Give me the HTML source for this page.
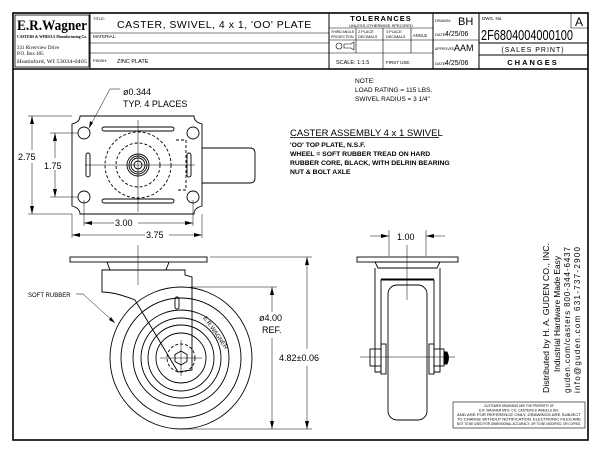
<!DOCTYPE html>
<html><head><style>html,body{margin:0;padding:0;background:#fff}svg{display:block}</style></head><body>
<svg width="600" height="453" viewBox="0 0 600 453" xmlns="http://www.w3.org/2000/svg" font-family="Liberation Sans, sans-serif">
<rect width="600" height="453" fill="#fff"/>
<g fill="none" stroke="#000">
<rect x="13" y="13" width="575" height="427" stroke-width="1.6"/>
<line x1="13" y1="69" x2="588" y2="69" stroke-width="1.6"/>
<rect x="15" y="15" width="74" height="52" stroke-width="0.8"/>
<line x1="90" y1="13" x2="90" y2="69"/>
<line x1="90" y1="33" x2="329" y2="33" stroke-width="0.6"/>
<line x1="90" y1="43" x2="329" y2="43" stroke-width="0.6"/>
<line x1="90" y1="53" x2="329" y2="53" stroke-width="0.6"/>
<line x1="329" y1="13" x2="329" y2="69"/>
<line x1="433" y1="13" x2="433" y2="69"/>
<line x1="479" y1="13" x2="479" y2="69"/>
<line x1="329" y1="28" x2="433" y2="28" stroke-width="0.6"/>
<line x1="329" y1="40" x2="433" y2="40" stroke-width="0.6"/>
<line x1="329" y1="53" x2="433" y2="53" stroke-width="0.6"/>
<line x1="356" y1="28" x2="356" y2="53" stroke-width="0.6"/>
<line x1="383" y1="28" x2="383" y2="69" stroke-width="0.6"/>
<line x1="411" y1="28" x2="411" y2="53" stroke-width="0.6"/>
<line x1="433" y1="40" x2="479" y2="40" stroke-width="0.6"/>
<line x1="479" y1="43" x2="588" y2="43"/>
<line x1="479" y1="55" x2="588" y2="55"/>
<line x1="571" y1="13" x2="571" y2="28" stroke-width="0.6"/>
<line x1="571" y1="28" x2="588" y2="28" stroke-width="0.6"/>
</g>
<g fill="#000">
<text x="17" y="30" font-family="Liberation Serif, serif" font-size="15" font-weight="bold" textLength="70" lengthAdjust="spacingAndGlyphs">E.R.Wagner</text>
<text x="17" y="38" font-family="Liberation Serif, serif" font-size="4.5" font-weight="bold" textLength="70" lengthAdjust="spacingAndGlyphs">CASTERS &amp; WHEELS  Manufacturing Co.</text>
<text x="17" y="49" font-family="Liberation Serif, serif" font-size="5">331 Riverview Drive</text>
<text x="17" y="55" font-family="Liberation Serif, serif" font-size="5">P.O. Box 405</text>
<text x="17" y="63" font-family="Liberation Serif, serif" font-size="5" textLength="70" lengthAdjust="spacingAndGlyphs">Hustisford, WI 53034-0405</text>
<text x="93" y="20" font-size="4">TITLE:</text>
<text x="117" y="28" font-size="10.5" letter-spacing="0.5">CASTER, SWIVEL, 4 x 1, 'OO' PLATE</text>
<text x="93" y="38" font-size="4.5">MATERIAL:</text>
<text x="93" y="62" font-size="4">FINISH:</text>
<text x="117" y="63" font-size="5.5">ZINC PLATE</text>
<text x="381" y="21" font-size="7.5" font-weight="bold" text-anchor="middle" letter-spacing="1">TOLERANCES</text>
<text x="381" y="27" font-size="4" text-anchor="middle">UNLESS OTHERWISE SPECIFIED</text>
<text x="331" y="33" font-size="3.5">THIRD ANGLE</text><text x="331" y="38" font-size="3.5">PROJECTION</text>
<text x="358" y="33" font-size="3.8">2 PLACE</text><text x="358" y="38" font-size="3.8">DECIMALS</text>
<text x="386" y="33" font-size="3.8">3 PLACE</text><text x="386" y="38" font-size="3.8">DECIMALS</text>
<text x="413" y="37" font-size="4.2">ANGLE</text>
<text x="336" y="64" font-size="5.5">SCALE: 1:1.5</text>
<text x="386" y="64" font-size="4.5">FIRST USE:</text>
<text x="435" y="22" font-size="4">DRAWN:</text><text x="458" y="25" font-size="11">BH</text>
<text x="435" y="36" font-size="4">DATE:</text><text x="445" y="36" font-size="7">4/25/06</text>
<text x="435" y="50" font-size="3.5">APPROVED:</text><text x="454" y="51" font-size="9">AAM</text>
<text x="435" y="65" font-size="4">DATE:</text><text x="445" y="65" font-size="7">4/25/06</text>
<text x="482" y="20" font-size="4.5">DWG. No.</text>
<text x="481" y="40" font-size="15" textLength="92" lengthAdjust="spacingAndGlyphs">2F6804004000100</text>
<text x="579" y="26" font-size="12" text-anchor="middle">A</text>
<text x="533" y="52" font-size="7" text-anchor="middle" letter-spacing="1">(SALES PRINT)</text>
<text x="533" y="65" font-size="7.5" font-weight="bold" text-anchor="middle" letter-spacing="2">CHANGES</text>
</g>
<g fill="none" stroke="#000" stroke-width="0.9">
<circle cx="339" cy="46" r="3" stroke-width="0.6"/><path d="M344 44h7l3-2v8l-3-2h-7z" stroke-width="0.6"/>
<path d="M80 116H194Q194 122 202 124V206Q194 208 194 214H80Q80 208 72 206V124Q80 122 80 116Z"/>
<path d="M202 148H250Q255 148 255 153V178Q255 183 250 183H202"/>
<circle cx="84" cy="133" r="6"/><circle cx="193" cy="133" r="6"/><circle cx="84" cy="197" r="6"/><circle cx="193" cy="197" r="6"/>
<rect x="102" y="127" width="72" height="4" rx="2"/><rect x="102" y="199" width="72" height="4" rx="2"/>
<rect x="86" y="153" width="4" height="24" rx="2"/><rect x="187" y="153" width="4" height="24" rx="2"/>
<circle cx="138" cy="165" r="4"/><circle cx="138" cy="165" r="7"/><circle cx="138" cy="165" r="9"/><circle cx="138" cy="165" r="11"/>
<circle cx="138" cy="165" r="22" stroke-dasharray="3 2"/><circle cx="138" cy="165" r="33" stroke-dasharray="3 2"/>
<path d="M176 140h10v50h-10" stroke-dasharray="3 2"/>
<g stroke-width="0.5"><line x1="138" y1="120" x2="138" y2="212"/><line x1="85" y1="165" x2="195" y2="165"/>
<line x1="28" y1="116" x2="72" y2="116"/><line x1="28" y1="214" x2="72" y2="214"/><line x1="32" y1="116" x2="32" y2="214"/>
<line x1="50" y1="133" x2="78" y2="133"/><line x1="50" y1="197" x2="78" y2="197"/><line x1="55" y1="133" x2="55" y2="197"/>
<line x1="84" y1="200" x2="84" y2="226"/><line x1="193" y1="200" x2="193" y2="226"/><line x1="84" y1="223" x2="193" y2="223"/>
<line x1="72" y1="214" x2="72" y2="238"/><line x1="202" y1="214" x2="202" y2="238"/><line x1="72" y1="235" x2="202" y2="235"/>
<path d="M120 89L110 89L89 128"/>
</g>
<rect x="70" y="257" width="137" height="5"/>
<path d="M107 262h62l-3 8H110z"/>
<path d="M102 270H185V275L192 277V370L178 372L135 300Q115 292 102 292Z"/>
<circle cx="181" cy="358" r="71"/>
<circle cx="181" cy="358" r="60"/><circle cx="181" cy="358" r="48"/><circle cx="181" cy="358" r="40"/><circle cx="181" cy="358" r="33"/><circle cx="181" cy="358" r="25"/>
<circle cx="181" cy="358" r="14" stroke-dasharray="3 2"/>
<path d="M181 351l6 3.5v7l-6 3.5l-6-3.5v-7z"/>
<rect x="175" y="297" width="4" height="12" rx="2"/>
<g stroke-width="0.5"><line x1="138" y1="245" x2="138" y2="285"/><line x1="160" y1="358" x2="202" y2="358"/><line x1="181" y1="340" x2="181" y2="376"/>
<line x1="210" y1="257" x2="312" y2="257"/><line x1="181" y1="429" x2="312" y2="429"/><line x1="307" y1="257" x2="307" y2="349"/><line x1="307" y1="366" x2="307" y2="429"/>
<line x1="190" y1="287" x2="277" y2="287"/><line x1="272" y1="287" x2="272" y2="312"/><line x1="272" y1="338" x2="272" y2="429"/>
<path d="M76 294H83L115 323"/></g>
<rect x="357" y="257" width="101" height="5"/>
<path d="M375 262h65l-3 6h-59z"/>
<path d="M375 268V372h6V280h53v92h6V268"/>
<rect x="388" y="285" width="39" height="135" rx="9"/>
<rect x="381" y="344" width="5" height="30"/><rect x="429" y="344" width="5" height="30"/>
<rect x="370" y="349" width="11" height="17"/><rect x="434" y="349" width="10" height="17"/>
<path d="M444 352h3q3 6 0 12h-3z" fill="#000"/>
<line x1="381" y1="279" x2="434" y2="279"/>
<g stroke-width="0.5"><line x1="407" y1="245" x2="407" y2="300"/><line x1="360" y1="357" x2="455" y2="357"/>
<line x1="389" y1="230" x2="389" y2="256"/><line x1="426" y1="230" x2="426" y2="256"/>
<line x1="370" y1="236" x2="389" y2="236"/><line x1="426" y1="236" x2="445" y2="236"/></g>
<rect x="453" y="402" width="132" height="26" stroke-width="0.6"/>
</g>
<g fill="#000">
<path d="M32 116l-2 8h4z"/><path d="M32 214l-2-8h4z"/>
<path d="M55 133l-2 8h4z"/><path d="M55 197l-2-8h4z"/>
<path d="M84 223l8-2v4z"/><path d="M193 223l-8-2v4z"/>
<path d="M72 235l8-2v4z"/><path d="M202 235l-8-2v4z"/>
<path d="M89 128l1-7 3 2z"/>
<path d="M307 257l-2 8h4z"/><path d="M307 429l-2-8h4z"/>
<path d="M272 287l-2 8h4z"/><path d="M272 429l-2-8h4z"/>
<path d="M115 323l-6-3 2-3z"/>
<path d="M389 236l-8-2v4z"/><path d="M426 236l8-2v4z"/>
</g>
<g fill="#000" font-size="9">
<rect x="18" y="150" width="28" height="13" fill="#fff"/><text x="18" y="160">2.75</text>
<rect x="42" y="158" width="26" height="12" fill="#fff"/><text x="44" y="169">1.75</text>
<rect x="114" y="217" width="24" height="11" fill="#fff"/><text x="115" y="226">3.00</text>
<rect x="145" y="229" width="24" height="11" fill="#fff"/><text x="146" y="238">3.75</text>
<text x="123" y="95">ø0.344</text>
<text x="123" y="107">TYP. 4 PLACES</text>
<text x="28" y="297" font-size="6">SOFT RUBBER</text>
<text x="259" y="321">ø4.00</text>
<text x="262" y="333">REF.</text>
<text x="279" y="361">4.82±0.06</text>
<text x="397" y="240">1.00</text>
<text x="203" y="318" font-size="6" transform="rotate(55 203 318)">E.R.WAGNER</text>
<text x="355" y="83" font-size="6.5">NOTE:</text>
<text x="355" y="92" font-size="6.5">LOAD RATING = 115 LBS.</text>
<text x="355" y="101" font-size="6.5">SWIVEL RADIUS = 3 1/4"</text>
<text x="290" y="136" font-size="9.5">CASTER ASSEMBLY  4 x 1 SWIVEL</text>
<rect x="290" y="137" width="149" height="0.8"/>
<g font-size="6.8" font-weight="bold">
<text x="290" y="147">'OO' TOP PLATE, N.S.F.</text>
<text x="290" y="156">WHEEL = SOFT RUBBER TREAD ON HARD</text>
<text x="290" y="165">RUBBER CORE, BLACK, WITH DELRIN BEARING</text>
<text x="290" y="174">NUT &amp; BOLT AXLE</text>
</g>
<g font-size="8">
<text transform="translate(549 393) rotate(-90)" textLength="150" lengthAdjust="spacingAndGlyphs">Distributed by    H. A. GUDEN CO., INC.</text>
<text transform="translate(560 372) rotate(-90)" textLength="116" lengthAdjust="spacingAndGlyphs">Industrial Hardware Made Easy</text>
<text transform="translate(570 393) rotate(-90)" textLength="146" lengthAdjust="spacing">guden.com/casters          800-344-6437</text>
<text transform="translate(580 393) rotate(-90)" textLength="146" lengthAdjust="spacing">info@guden.com             631-737-2900</text>
</g>
<g font-size="3.4" text-anchor="middle">
<text x="519" y="407" textLength="70" lengthAdjust="spacingAndGlyphs">CUSTOMER DRAWINGS ARE THE PROPERTY OF</text>
<text x="519" y="411.5" textLength="80" lengthAdjust="spacingAndGlyphs">E.R. WAGNER MFG. CO. CASTERS &amp; WHEELS DIV.</text>
<text x="519" y="416" textLength="124" lengthAdjust="spacingAndGlyphs">AND ARE FOR REFERENCE ONLY. DRAWINGS ARE SUBJECT</text>
<text x="519" y="420.5" textLength="124" lengthAdjust="spacingAndGlyphs">TO CHANGE WITHOUT NOTIFICATION. ELECTRONIC FILES ARE</text>
<text x="519" y="425" textLength="124" lengthAdjust="spacingAndGlyphs">NOT TO BE USED FOR DIMENSIONAL ACCURACY, OR TO BE MODIFIED, OR COPIED.</text>
</g>
</g>
</svg>
</body></html>
